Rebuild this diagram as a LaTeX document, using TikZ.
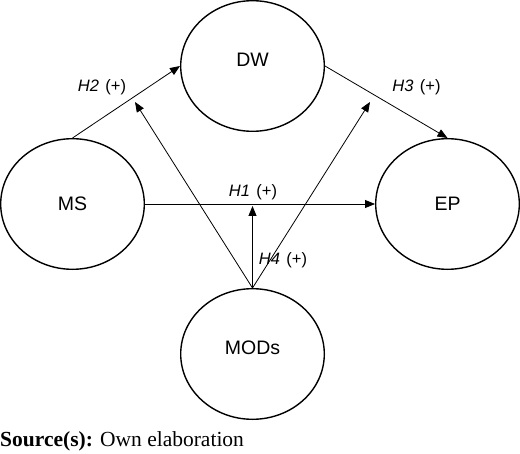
\documentclass[tikz,border=0pt]{standalone}
\usepackage{fontspec}
\setmainfont{Liberation Serif}
\setsansfont{Liberation Sans}
\usetikzlibrary{shapes.geometric,arrows.meta}
\tikzset{
	var/.style={draw, ellipse, line width=1.4bp, minimum width=143.6bp, minimum height=130.6bp, inner sep=0pt, font=\sffamily\fontsize{19.5bp}{22bp}\selectfont},
	raised/.style={text depth=13bp},
	hyp/.style={inner sep=0pt, font=\sffamily\fontsize{16.5bp}{19bp}\selectfont},
	arr/.style={line width=0.8bp, -{Triangle[length=10bp,width=8bp]}}
}
\newcommand{\hypo}[1]{\textit{H#1}\hspace{6.5bp}(+)}

\begin{document}
\begin{tikzpicture}[x=1bp,y=-1bp]
	\useasboundingbox (0,0) rectangle (520,454);
	% Variables
	\node[var, raised] (dw) at (252.5,66) {DW};
	\node[var] (ms) at (72.5,204) {MS};
	\node[var] (ep) at (447.5,204) {EP};
	\node[var, raised] (mods) at (252.5,354) {MODs};
	% Points just under the direct paths
	\coordinate (onh2) at (135,102);
	\coordinate (onh3) at (370,102);
	\coordinate (onh1) at (252.5,206);
	% Arrows
	\draw[arr] (ms.north) -- (dw.west);
	\draw[arr] (dw.east) -- (ep.north);
	\draw[arr] (ms.east) -- (ep.west);
	\draw[arr] (mods.north) -- (onh2);
	\draw[arr] (mods.north) -- (onh3);
	\draw[arr] (mods.north) -- (onh1);
	% Labels
	\node[hyp] (h1) at (253,192) {\hypo{1}};
	\node[hyp] (h2) at (102,87.5) {\hypo{2}};
	\node[hyp] (h3) at (416.5,87.5) {\hypo{3}};
	\node[hyp] (h4) at (283,260.5) {\hypo{4}};
	\node[anchor=base west, inner sep=0pt, font=\fontsize{21.5bp}{24bp}\selectfont] (src) at (0,446) {\textbf{Source(s):} Own elaboration};
\end{tikzpicture}
\end{document}
